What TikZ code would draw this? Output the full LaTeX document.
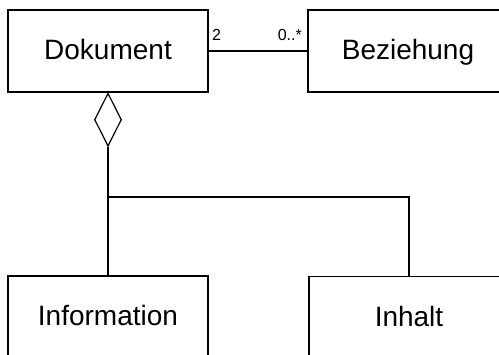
\documentclass[tikz,border=0pt]{standalone}
\usepackage{fontspec}
\setmainfont{Liberation Sans}
\usetikzlibrary{shapes.geometric}
\begin{document}
\begin{tikzpicture}[x=1pt,y=-1pt,
  cls/.style={draw, line width=1.2pt, minimum width=200pt, minimum height=82pt, inner sep=0pt, text height=20pt, text depth=2pt, font=\fontsize{28}{30}\selectfont},
  conn/.style={draw, line width=1.2pt},
  mult/.style={font=\fontsize{16}{17}\selectfont, inner sep=0pt},
  aggd/.style={diamond, draw, line width=1.2pt, minimum width=27pt, minimum height=53pt, inner sep=0pt}]
\useasboundingbox (0,0) rectangle (499,355);
\clip (0,0) rectangle (499,355);
\node[cls] (dok) at (108,51) {Dokument};
\node[cls] (bez) at (408,51) {Beziehung};
\node[cls] (info) at (108,317) {Information};
\node[cls] (inh) at (409,317.5) {Inhalt};
\node[aggd, anchor=north] (agg) at (dok.south) {};
\coordinate (j) at (108,197);
\draw[conn] (dok.east) -- (bez.west);
\node[mult, anchor=base west] at (212,41) {2};
\node[mult, anchor=base east] at (302,41) {0..*};
\draw[conn] (agg.south) -- (j) -- (info.north);
\draw[conn] (j) -| (inh.north);
\end{tikzpicture}
\end{document}
